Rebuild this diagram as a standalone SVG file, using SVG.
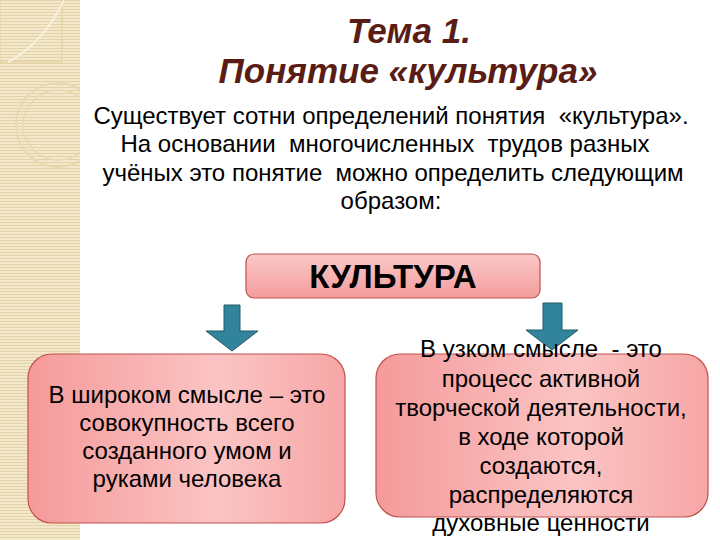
<svg xmlns="http://www.w3.org/2000/svg" width="720" height="540" viewBox="0 0 720 540">
<defs>
<pattern id="stripes" width="4" height="3" patternUnits="userSpaceOnUse">
<rect width="4" height="3" fill="#f3e8cb"/>
<rect width="4" height="1" fill="#e3d2a6"/>
</pattern>
<linearGradient id="boxfill" x1="0" y1="0" x2="1" y2="0">
<stop offset="0" stop-color="#f59a9a"/>
<stop offset="0.6" stop-color="#fbc4c4"/>
<stop offset="1" stop-color="#f7a6a6"/>
</linearGradient>
<linearGradient id="topfill" x1="0" y1="0" x2="0" y2="1">
<stop offset="0" stop-color="#fbc9c9"/>
<stop offset="1" stop-color="#f49c9c"/>
</linearGradient>
</defs>
<style>
.title{font-family:"Liberation Sans",Arial,sans-serif;font-style:italic;font-weight:bold;font-size:35px;fill:#5a1d15;text-anchor:middle}
.body{font-family:"Liberation Sans",Arial,sans-serif;font-size:24px;fill:#000;text-anchor:middle}
.box{stroke:#c0504d;stroke-width:1.2}
.boxtext{font-family:"Liberation Sans",Arial,sans-serif;font-size:24px;fill:#000;text-anchor:middle}
.arrow{fill:#31849b;stroke:#215968;stroke-width:1}
.deco{fill:none;stroke:#f8f0dc;stroke-width:2}
</style>
<rect width="720" height="540" fill="#ffffff"/>
<g id="background">
<rect x="0" y="0" width="80" height="540" fill="url(#stripes)"/>
<rect x="0" y="0" width="62" height="62" fill="none" stroke="#e6d5a8" stroke-width="1.5"/>
<path d="M64,0 C50,30 30,50 8,62" class="deco"/>
<circle cx="58" cy="125" r="42" fill="none" stroke="#e8d9b0" stroke-width="2"/>
<circle cx="58" cy="125" r="35" fill="none" stroke="#e8d9b0" stroke-width="1.5"/>
<rect x="80" y="0" width="640" height="540" fill="#ffffff"/>
</g>
<g id="title">
<text class="title" x="409" y="43">Тема 1.</text>
<text class="title" x="408" y="83">Понятие «культура»</text>
</g>
<g id="intro">
<text class="body" x="391" y="124" xml:space="preserve">Существует сотни определений понятия  «культура».</text>
<text class="body" x="385" y="152" xml:space="preserve">На основании  многочисленных  трудов разных</text>
<text class="body" x="393" y="181" xml:space="preserve">учёных это понятие  можно определить следующим</text>
<text class="body" x="391" y="209">образом:</text>
</g>
<g id="connectors">
<path class="arrow" d="M224,305 H240 V331 H258 L232,351 L206,331 H224 Z"/>
<path class="arrow" d="M543,303 H562 V330 H578 L552,350 L526,330 H543 Z"/>
</g>
<g id="node-culture">
<rect class="box" x="246" y="254" width="294" height="44" rx="8" fill="url(#topfill)"/>
<text x="393" y="288" font-family="Liberation Sans, Arial, sans-serif" font-weight="bold" font-size="33" text-anchor="middle" fill="#000">КУЛЬТУРА</text>
</g>
<g id="node-broad">
<rect class="box" x="28" y="354" width="317" height="169" rx="24" fill="url(#boxfill)"/>
<text class="boxtext" x="187" y="403" font-size="23.5">В широком смысле – это</text>
<text class="boxtext" x="187" y="431" font-size="23.5">совокупность всего</text>
<text class="boxtext" x="187" y="459" font-size="23.5">созданного умом и</text>
<text class="boxtext" x="187" y="487" font-size="23.5">руками человека</text>
</g>
<g id="node-narrow">
<rect class="box" x="376" y="354" width="332" height="163" rx="24" fill="url(#boxfill)"/>
<text class="boxtext" x="541" y="357" xml:space="preserve">В узком смысле  - это</text>
<text class="boxtext" x="541" y="387">процесс активной</text>
<text class="boxtext" x="541" y="416">творческой деятельности,</text>
<text class="boxtext" x="541" y="445">в ходе которой</text>
<text class="boxtext" x="541" y="474">создаются,</text>
<text class="boxtext" x="541" y="503">распределяются</text>
<text class="boxtext" x="541" y="531">духовные ценности</text>
</g>
</svg>
